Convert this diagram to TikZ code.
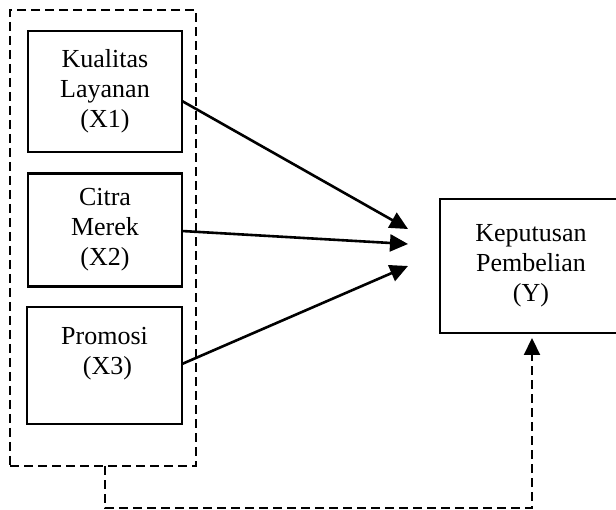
\documentclass[tikz,border=0pt]{standalone}
\usepackage{fontspec}
\setmainfont{Liberation Serif}
\usetikzlibrary{arrows.meta}
\begin{document}
\begin{tikzpicture}[x={(1pt,0)}, y={(0,-1pt)},
  every node/.style={font=\fontsize{26}{30}\selectfont},
  varbox/.style={draw, line width=2.4pt, align=center, inner sep=0pt, outer sep=0pt},
  grpbox/.style={draw, line width=2.2pt, dash pattern=on 9pt off 5pt},
  link/.style={line width=2.6pt, -{Triangle[length=18pt,width=17pt]}},
  dlink/.style={line width=2.2pt, dash pattern=on 9pt off 5pt, -{Triangle[length=17pt,width=16pt]}}]
\clip (0,0) rectangle (616,510);
\node[grpbox, minimum width=186pt, minimum height=456pt, inner sep=0pt] (grp) at (103,238) {};
\node[varbox, minimum width=154pt, minimum height=121pt] (x1) at (105,91.5) {Kualitas\\Layanan\\(X1)};
\node[varbox, minimum width=154pt, minimum height=113pt] (x2) at (105,230) {Citra\\Merek\\(X2)};
\node[varbox, minimum width=155pt, minimum height=117pt] (x3) at (104.5,365.5) {Promosi\\\hspace*{6pt}(X3)\\\mbox{}};
\node[varbox, minimum width=182pt, minimum height=134pt] (y) at (531,266) {Keputusan\\Pembelian\\(Y)};
\coordinate (t1) at (408,229);
\coordinate (t2) at (408,244);
\coordinate (t3) at (408,266);
\coordinate (s1) at (182,101);
\coordinate (s2) at (182,231);
\coordinate (s3) at (182,364);
\draw[link] (s1) -- (t1);
\draw[link] (s2) -- (t2);
\draw[link] (s3) -- (t3);
\coordinate (gb) at (105,466);
\coordinate (c1) at (105,508);
\coordinate (c2) at (532,508);
\coordinate (yt) at (532,338);
\draw[dlink] (gb) -- (c1) -- (c2) -- (yt);
\end{tikzpicture}
\end{document}
